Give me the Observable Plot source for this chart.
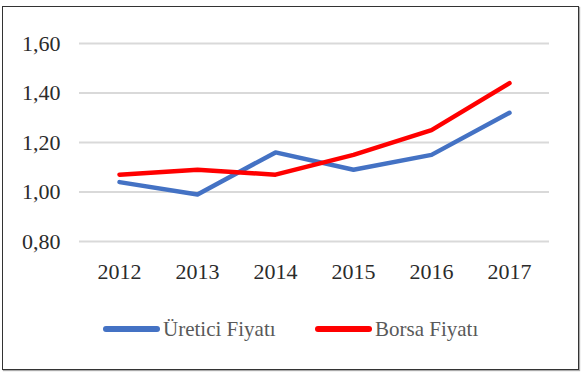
<!DOCTYPE html>
<html><head><meta charset="utf-8">
<script src="https://cdn.jsdelivr.net/npm/d3@7"></script>
<script src="https://cdn.jsdelivr.net/npm/@observablehq/plot@0.6"></script>
<style>
body{margin:0;background:#fff;font-family:'Liberation Serif',serif;}
#wrap{position:relative;width:583px;height:385px;}
#frame{position:absolute;left:2px;top:6px;width:575px;height:362px;border:1.5px solid #333;box-shadow:1px 1px 1px #aaa;}
#chart{position:absolute;left:0;top:0;}
#legend{position:absolute;left:0;top:316px;width:583px;height:26px;font-size:21px;color:#595959;font-family:'Liberation Serif',serif;}
.item{position:absolute;display:flex;align-items:center;height:26px;}
.sw{display:inline-block;width:57px;height:6px;border-radius:3px;margin-right:3px;}
</style></head><body>
<div id="wrap"><div id="frame"></div><div id="chart"></div><div id="legend"></div></div>
<script>
const years = ["2012","2013","2014","2015","2016","2017"];
const uretici = [1.04, 0.99, 1.16, 1.09, 1.15, 1.32];
const borsa = [1.07, 1.09, 1.07, 1.15, 1.25, 1.44];
const seriesNames = ["Üretici Fiyatı", "Borsa Fiyatı"];
const colors = ["#4472C4", "#FF0000"];
const yTicks = [0.8, 1.0, 1.2, 1.4, 1.6];

const data = [];
years.forEach((y,i)=>{
  data.push({year:y, value:uretici[i], series:seriesNames[0]});
  data.push({year:y, value:borsa[i], series:seriesNames[1]});
});

const chart = Plot.plot({
  width:583, height:290,
  marginLeft:79, marginRight:34, marginTop:43, marginBottom:49,
  style:{fontFamily:"'Liberation Serif',serif", fontSize:"22px", color:"#2b2b2b", background:"transparent"},
  x:{type:"point", domain:years, padding:0.5, label:null},
  y:{domain:[0.8,1.6], label:null},
  color:{domain:seriesNames, range:colors},
  marks:[
    Plot.gridY(yTicks, {stroke:"#d9d9d9", strokeOpacity:1, strokeWidth:2}),
    Plot.axisY(yTicks, {tickSize:0, tickPadding:19, tickFormat:d=>d3.format(".2f")(d).replace(".",","), fontSize:22}),
    Plot.axisX({tickSize:0, tickPadding:22, fontSize:22}),
    Plot.line(data, {x:"year", y:"value", z:"series", stroke:"series", strokeWidth:4.5, strokeLinejoin:"round", strokeLinecap:"round"})
  ]
});
document.getElementById("chart").appendChild(chart);

const leg = document.getElementById("legend");
const lefts = [103, 315];
seriesNames.forEach((n,i)=>{
  const it = document.createElement("div");
  it.className="item"; it.style.left=lefts[i]+"px"; it.style.top="0px";
  it.innerHTML = `<span class="sw" style="background:${colors[i]}"></span><span>${n}</span>`;
  leg.appendChild(it);
});
</script>
</body></html>
